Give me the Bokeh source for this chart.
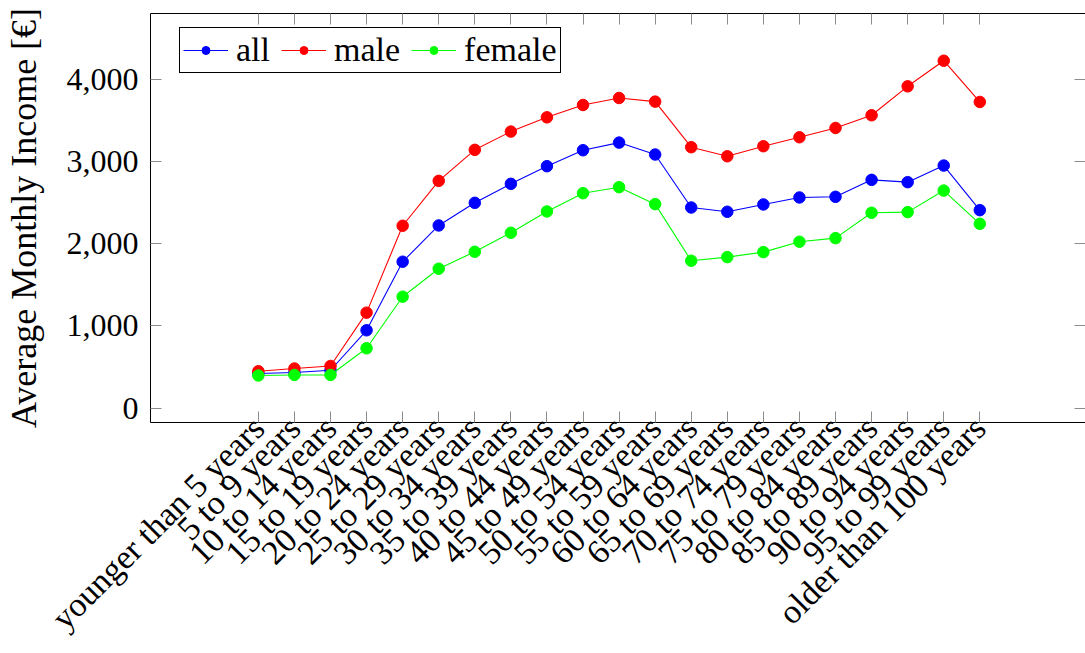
from bokeh.plotting import figure
from bokeh.models import (Range1d, FixedTicker, NumeralTickFormatter, LinearAxis,
                          Legend, LegendItem, CustomJSTickFormatter)
from bokeh.embed import file_html
from bokeh.resources import INLINE
import math

categories = [
    "younger than 5 years", "5 to 9 years", "10 to 14 years", "15 to 19 years",
    "20 to 24 years", "25 to 29 years", "30 to 34 years", "35 to 39 years",
    "40 to 44 years", "45 to 49 years", "50 to 54 years", "55 to 59 years",
    "60 to 64 years", "65 to 69 years", "70 to 74 years", "75 to 79 years",
    "80 to 84 years", "85 to 89 years", "90 to 94 years", "95 to 99 years",
    "older than 100 years",
]
all_vals = [421, 433, 461, 947, 1780, 2221, 2496, 2727, 2941, 3135, 3228, 3083,
            2439, 2387, 2476, 2561, 2569, 2775, 2747, 2949, 2407]
male_vals = [449, 482, 513, 1161, 2217, 2763, 3140, 3362, 3535, 3685, 3770, 3726,
             3172, 3062, 3184, 3293, 3406, 3560, 3912, 4223, 3722]
female_vals = [397, 404, 404, 728, 1355, 1695, 1901, 2132, 2391, 2613, 2686, 2480,
               1792, 1836, 1897, 2023, 2067, 2375, 2383, 2645, 2241]
y_ticks = [0, 1000, 2000, 3000, 4000]

FONT = "Liberation Serif"
TICK_COLOR = "#8c8c8c"

x = list(range(len(categories)))

p = figure(width=1085, height=653, output_backend="svg", toolbar_location=None,
           x_range=Range1d(-2.99, 22.93), y_range=Range1d(-174, 4797),
           min_border_left=148, min_border_right=0, min_border_top=13,
           min_border_bottom=231)
p.outline_line_color = None
p.xgrid.visible = False
p.ygrid.visible = False
p.background_fill_color = "white"
p.border_fill_color = "white"

series = [("all", all_vals, "#0000ff"), ("male", male_vals, "#ff0000"),
          ("female", female_vals, "#00ff00")]
items = []
for name, vals, col in series:
    ln = p.line(x, vals, line_color=col, line_width=1.1)
    sc = p.scatter(x, vals, size=11.5, marker="circle", fill_color=col, line_color=col)
    items.append(LegendItem(label=name, renderers=[ln, sc]))

xticker = FixedTicker(ticks=x)
yticker = FixedTicker(ticks=y_ticks)
blank = CustomJSTickFormatter(code="return '';")

# bottom axis
xa = p.xaxis[0]
xa.ticker = xticker
xa.major_label_overrides = {i: c for i, c in enumerate(categories)}
xa.major_label_orientation = math.pi / 4
xa.major_label_text_font = FONT
xa.major_label_text_font_size = "34px"
xa.major_label_text_color = "black"
xa.major_label_standoff = 0
xa.major_tick_in = 11
xa.major_tick_out = 0
xa.major_tick_line_color = TICK_COLOR
xa.minor_tick_line_color = None
xa.axis_line_color = "black"

# left axis
ya = p.yaxis[0]
ya.ticker = yticker
ya.formatter = NumeralTickFormatter(format="0,0")
ya.major_label_text_font = FONT
ya.major_label_text_font_size = "32px"
ya.major_label_text_color = "black"
ya.major_label_standoff = 12
ya.major_tick_in = 11
ya.major_tick_out = 0
ya.major_tick_line_color = TICK_COLOR
ya.minor_tick_line_color = None
ya.axis_line_color = "black"
ya.axis_label = "Average Monthly Income [€]"
ya.axis_label_text_font = FONT
ya.axis_label_text_font_size = "36px"
ya.axis_label_text_font_style = "normal"
ya.axis_label_text_color = "black"
ya.axis_label_standoff = 20

# top axis (ticks only)
ta = LinearAxis(ticker=xticker, formatter=blank, major_label_text_color=None,
                major_label_standoff=0, major_tick_in=11, major_tick_out=0,
                major_tick_line_color=TICK_COLOR, minor_tick_line_color=None,
                axis_line_color="black")
p.add_layout(ta, "above")

# right axis (ticks only)
ra = LinearAxis(ticker=yticker, formatter=blank, major_label_text_color=None,
                major_label_standoff=0, major_tick_in=11, major_tick_out=0,
                major_tick_line_color=TICK_COLOR, minor_tick_line_color=None,
                axis_line_color=None)
p.add_layout(ra, "right")

legend = Legend(items=items, orientation="horizontal", location=(29, 349),
                label_text_font=FONT, label_text_font_size="34px",
                label_text_color="black",
                glyph_width=45, glyph_height=20, label_standoff=8, spacing=11,
                padding=3, margin=0, border_line_color="black",
                border_line_width=1, border_line_alpha=1,
                background_fill_color="white", background_fill_alpha=1)
p.add_layout(legend)

open("out.html", "w").write(file_html(p, INLINE))
